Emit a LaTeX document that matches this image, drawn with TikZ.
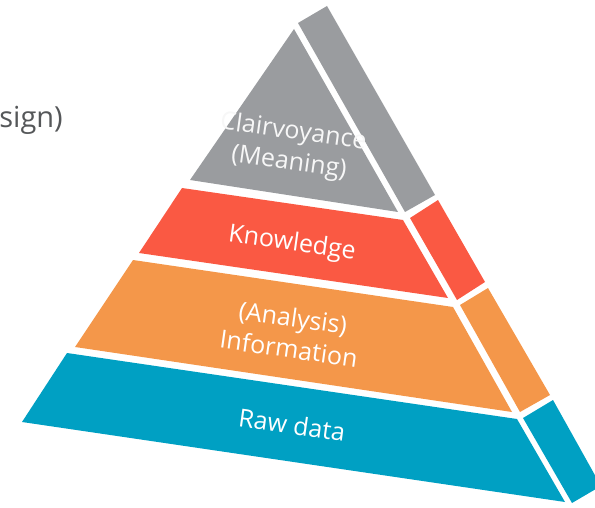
\documentclass[tikz,border=0pt]{standalone}
\usepackage{fontspec}
\setmainfont{Open Sans}
\usetikzlibrary{positioning}

\definecolor{dikwgray}{HTML}{9A9C9F}
\definecolor{dikwred}{HTML}{FA5943}
\definecolor{dikworange}{HTML}{F4974A}
\definecolor{dikwblue}{HTML}{00A0C3}
\definecolor{dikwtext}{HTML}{555759}

\begin{document}
\begin{tikzpicture}[x=1pt, y=-1pt,
    band/.style={fill=#1},
    bandtext/.style={text=white, font=\fontsize{25}{31}\selectfont, align=center, rotate=-8, inner sep=0pt}]
    \useasboundingbox (0,0) rectangle (595,508);

    % front faces
    \fill[band=dikwgray] (294,29) -- (398,212) -- (190,180) -- cycle;
    \fill[band=dikwred] (182,188) -- (403,220) -- (448,298) -- (139,253) -- cycle;
    \fill[band=dikworange] (133,260) -- (453,307) -- (512,412) -- (75,347) -- cycle;
    \fill[band=dikwblue] (67,353) -- (517,419) -- (565,502) -- (22,422) -- cycle;
    % side faces
    \fill[band=dikwgray] (298,23) -- (327,6) -- (435,195) -- (405,212) -- cycle;
    \fill[band=dikwred] (410,218) -- (438,200) -- (485,282) -- (457,300) -- cycle;
    \fill[band=dikworange] (460,305) -- (488,288) -- (550,395) -- (520,412) -- cycle;
    \fill[band=dikwblue] (523,418) -- (553,400) -- (601,486) -- (572,503) -- cycle;

    \node[bandtext, text=white!92!dikwgray] (clair) at (291,148) {Clairvoyance\\(Meaning)};
    \node[bandtext] (know) at (292,244) {Knowledge};
    \node[bandtext] (info) at (291,333) {(Analysis)\\Information};
    \node[bandtext] (raw) at (292,425) {Raw data};

    \node[font=\fontsize{29}{34}\selectfont, text=dikwtext, anchor=base east, inner sep=0pt] (design) at (63,128) {sign)};
\end{tikzpicture}
\end{document}
